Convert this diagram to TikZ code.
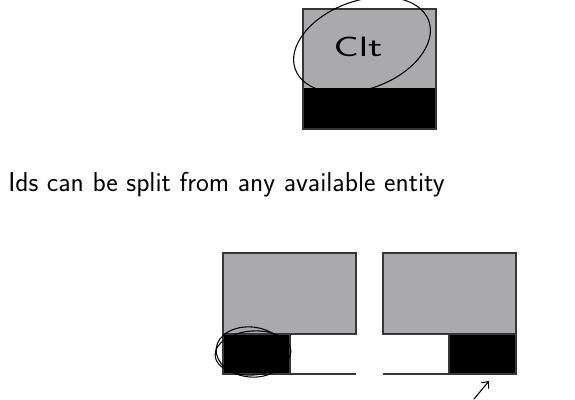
\documentclass[tikz,border=0pt]{standalone}
\usepackage{tikz}
\usetikzlibrary{arrows.meta}
\definecolor{boxgray}{RGB}{170,169,172}
\definecolor{edgegray}{RGB}{55,55,55}
\tikzset{
	block/.style={draw=edgegray, line width=0.8pt},
	ink/.style={black, line width=0.8pt, line cap=round},
}
\begin{document}
\begin{tikzpicture}[x=0.75pt, y=-0.75pt]
	\useasboundingbox (0,0) rectangle (575,400);
	% entity on top
	\fill[boxgray] (303,9) rectangle (436,88);
	\fill[black] (303,88) rectangle (436,129);
	\draw[block] (303,9) rectangle (436,129);
	\node[font=\sffamily\fontsize{21}{21}\selectfont, xscale=1.5, inner sep=0] (clt) at (358,47) {Clt};
	\draw[ink] (362,45) ellipse [x radius=71, y radius=44, rotate=20];
	% caption
	\node[font=\sffamily\fontsize{20.5}{24}\selectfont, anchor=base west, inner sep=0] (caption) at (8,191) {Ids can be split from any available entity};
	% split, left
	\fill[boxgray] (223,253) rectangle (356,334);
	\fill[black] (223,334) rectangle (290,374);
	\draw[block] (223,253) rectangle (356,334);
	\draw[block] (223,334) rectangle (290,374) -- (356,374);
	\draw[ink] (253,353) ellipse [x radius=38, y radius=22, rotate=4];
	\draw[ink] (251,352) ellipse [x radius=35, y radius=25, rotate=-6];
	% split, right
	\fill[boxgray] (383,253) rectangle (516,334);
	\fill[black] (449,334) rectangle (516,374);
	\draw[block] (383,253) rectangle (516,334);
	\draw[block] (383,374) -- (449,374) rectangle (516,334);
	\coordinate (tail) at (474,399);
	\coordinate (tip) at (489,381);
	\draw[ink,-{Straight Barb[length=4pt,width=7pt]}] (tail) -- (tip);
\end{tikzpicture}
\end{document}
